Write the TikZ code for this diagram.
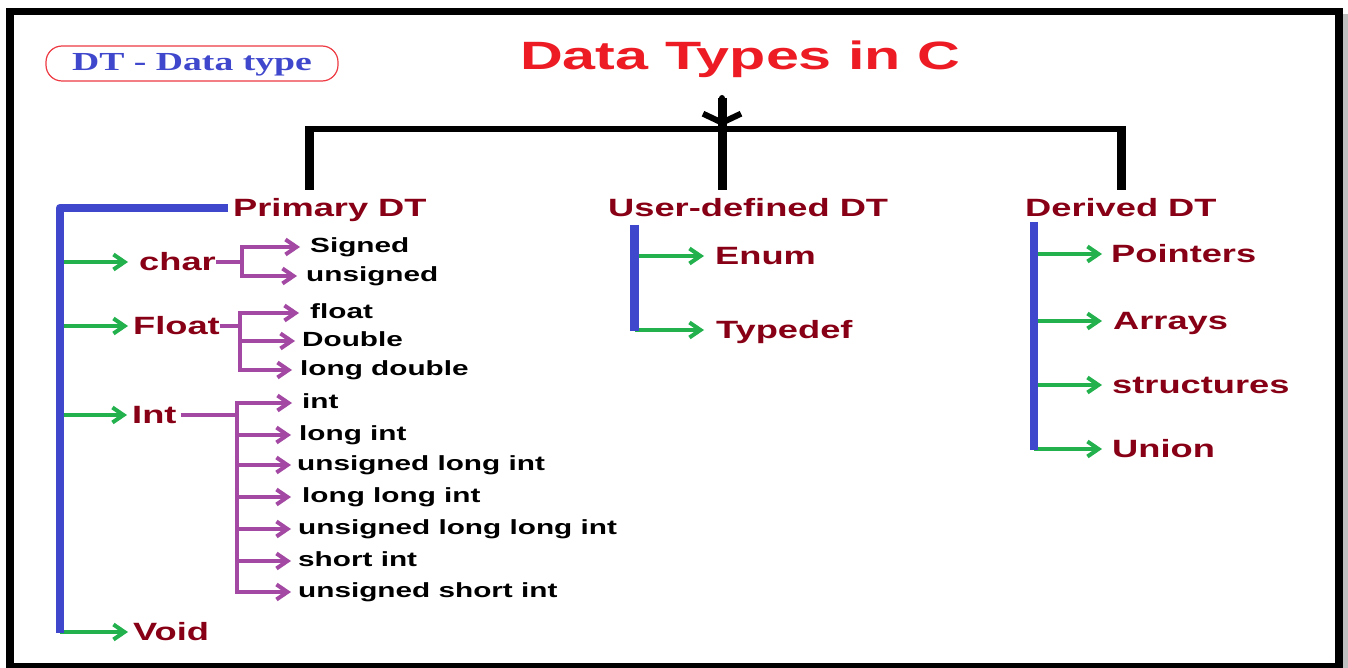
\documentclass[tikz,border=0pt]{standalone}
\usepackage{fontspec}
\usetikzlibrary{arrows.meta}
\newfontfamily\labelfont[FakeStretch=1.45]{Liberation Sans}
\newfontfamily\titlefont[FakeStretch=1.5]{Liberation Sans}
\newfontfamily\notefont[FakeStretch=1.45]{Liberation Serif}
\definecolor{ttl}{HTML}{ED1C24}
\definecolor{mrn}{HTML}{880015}
\definecolor{blu}{HTML}{3F48CC}
\definecolor{grn}{HTML}{22B14C}
\definecolor{pur}{HTML}{A349A4}
\definecolor{boxred}{HTML}{EE3B43}
\begin{document}
\begin{tikzpicture}[x=1pt,y=-1pt,
  cat/.style={anchor=west, inner sep=0pt, text=mrn,
    font=\labelfont\bfseries\fontsize{25}{30}\selectfont,
    text height=18.75pt, text depth=2.5pt},
  leaf/.style={anchor=west, inner sep=0pt, text=black,
    font=\labelfont\bfseries\fontsize{20.5}{24}\selectfont,
    text height=14.8pt, text depth=4.1pt},
  garr/.style={draw=grn, line width=4pt, -{Straight Barb[length=11pt,width=15pt]}},
  parr/.style={draw=pur, line width=4pt, -{Straight Barb[length=11pt,width=15pt]}},
  pline/.style={draw=pur, line width=4pt},
  bbar/.style={draw=blu, line width=8.5pt},
  blk/.style={draw=black, line width=9pt}]
\useasboundingbox (0,0) rectangle (1348,668);
\fill[white] (0,0) rectangle (1348,668);

% outer frame with its soft right shadow
\fill[black!25] (1343,14) rectangle (1348,668);
\draw[line width=7.5pt] (10,11.5) rectangle (1339,667);

% legend and title
\node[draw=boxred, line width=1.2pt, rounded corners=16pt,
  minimum width=292pt, minimum height=35pt, inner sep=0pt, text=blu,
  font=\notefont\bfseries\fontsize{26}{30}\selectfont,
  text height=17pt, text depth=3pt] (note) at (192,63.5) {DT - Data type};
\node[anchor=base west, inner sep=0pt, text=ttl,
  font=\titlefont\bfseries\fontsize{39.5}{45}\selectfont] (title) at (520,70) {Data Types in C};

% the three categories
\node[cat] (prim) at (233,208) {Primary DT};
\node[cat] (user) at (608,208) {User-defined DT};
\node[cat] (der) at (1025,208) {Derived DT};

% black tree from the title to the categories
\coordinate (ttop) at (722,98);
\coordinate (hub) at (722,126);
\coordinate (utop) at (722,190);
\coordinate (ptop) at (309.5,190);
\coordinate (pbend) at (309.5,126);
\coordinate (dtop) at (1121.5,190);
\coordinate (dbend) at (1121.5,126);
\draw[black, line width=6pt] (305,129) -- (1126,129);
\draw[blk] (pbend) -- (ptop);
\draw[blk] (dbend) -- (dtop);
\draw[blk] (ttop) -- (utop);
\draw[black, line width=6pt, line cap=round,
  -{Straight Barb[length=9pt,width=38pt]}] (ttop) -- (hub);

% primary types
\node[cat] (chr) at (139,262) {char};
\node[cat] (flo) at (133,326) {Float};
\node[cat] (int) at (132,415) {Int};
\node[cat] (void) at (133,632) {Void};
\coordinate (pa) at (60,208);
\coordinate (pb) at (60,633);
\draw[garr, shorten >=11pt] (pa |- chr.west) -- (chr.west);
\draw[garr, shorten >=5pt] (pa |- flo.west) -- (flo.west);
\draw[garr, shorten >=5pt] (pa |- int.west) -- (int.west);
\draw[garr, shorten >=5pt] (pa |- void.west) -- (void.west);
\draw[bbar, line join=round] ([xshift=-5pt]prim.west) -- (pa) -- (pb);

% char variants
\node[leaf] (sgn) at (310,247) {Signed};
\node[leaf] (uns) at (306,276) {unsigned};
\coordinate (cj) at (242,262);
\draw[pline] (chr.east) -- (cj);
\draw[parr, shorten >=10pt] (cj) |- (sgn.west);
\draw[parr, shorten >=9pt] (cj) |- (uns.west);

% float variants
\node[leaf] (flt) at (310,313) {float};
\node[leaf] (dbl) at (302,341) {Double};
\node[leaf] (ldb) at (300,370) {long double};
\coordinate (fj) at (240,326);
\draw[pline] (flo.east) -- (fj);
\draw[parr, shorten >=11pt] (fj) |- (flt.west);
\draw[parr, shorten >=7pt] (fj) |- (dbl.west);
\draw[parr, shorten >=8pt] (fj) |- (ldb.west);

% int variants
\node[leaf] (i1) at (302,403) {int};
\node[leaf] (i2) at (299,435) {long int};
\node[leaf] (i3) at (297,465) {unsigned long int};
\node[leaf] (i4) at (302,497) {long long int};
\node[leaf] (i5) at (298,529) {unsigned long long int};
\node[leaf] (i6) at (298,561) {short int};
\node[leaf] (i7) at (298,592) {unsigned short int};
\coordinate (ij) at (237,415);
\draw[pline, shorten <=4pt] (int.east) -- (ij);
\draw[parr, shorten >=10pt] (ij) |- (i1.west);
\draw[parr, shorten >=8pt] (ij) |- (i2.west);
\draw[parr, shorten >=6pt] (ij) |- (i3.west);
\draw[parr, shorten >=11pt] (ij) |- (i4.west);
\draw[parr, shorten >=7pt] (ij) |- (i5.west);
\draw[parr, shorten >=7pt] (ij) |- (i6.west);
\draw[parr, shorten >=7pt] (ij) |- (i7.west);

% user-defined types
\node[cat] (enm) at (715,256) {Enum};
\node[cat] (tdf) at (716,330) {Typedef};
\coordinate (ua) at (634.5,225);
\coordinate (ub) at (634.5,331);
\draw[garr, shorten >=11pt] (ua |- enm.west) -- (enm.west);
\draw[garr, shorten >=12pt] (ua |- tdf.west) -- (tdf.west);
\draw[bbar] (ua) -- (ub);

% derived types
\node[cat] (ptr) at (1111,254) {Pointers};
\node[cat] (arr) at (1113,321) {Arrays};
\node[cat] (str) at (1112,385) {structures};
\node[cat] (uni) at (1112,449) {Union};
\coordinate (da) at (1034,222);
\coordinate (db) at (1034,450);
\draw[garr, shorten >=9pt] (da |- ptr.west) -- (ptr.west);
\draw[garr, shorten >=11pt] (da |- arr.west) -- (arr.west);
\draw[garr, shorten >=10pt] (da |- str.west) -- (str.west);
\draw[garr, shorten >=10pt] (da |- uni.west) -- (uni.west);
\draw[bbar] (da) -- (db);
\end{tikzpicture}
\end{document}
